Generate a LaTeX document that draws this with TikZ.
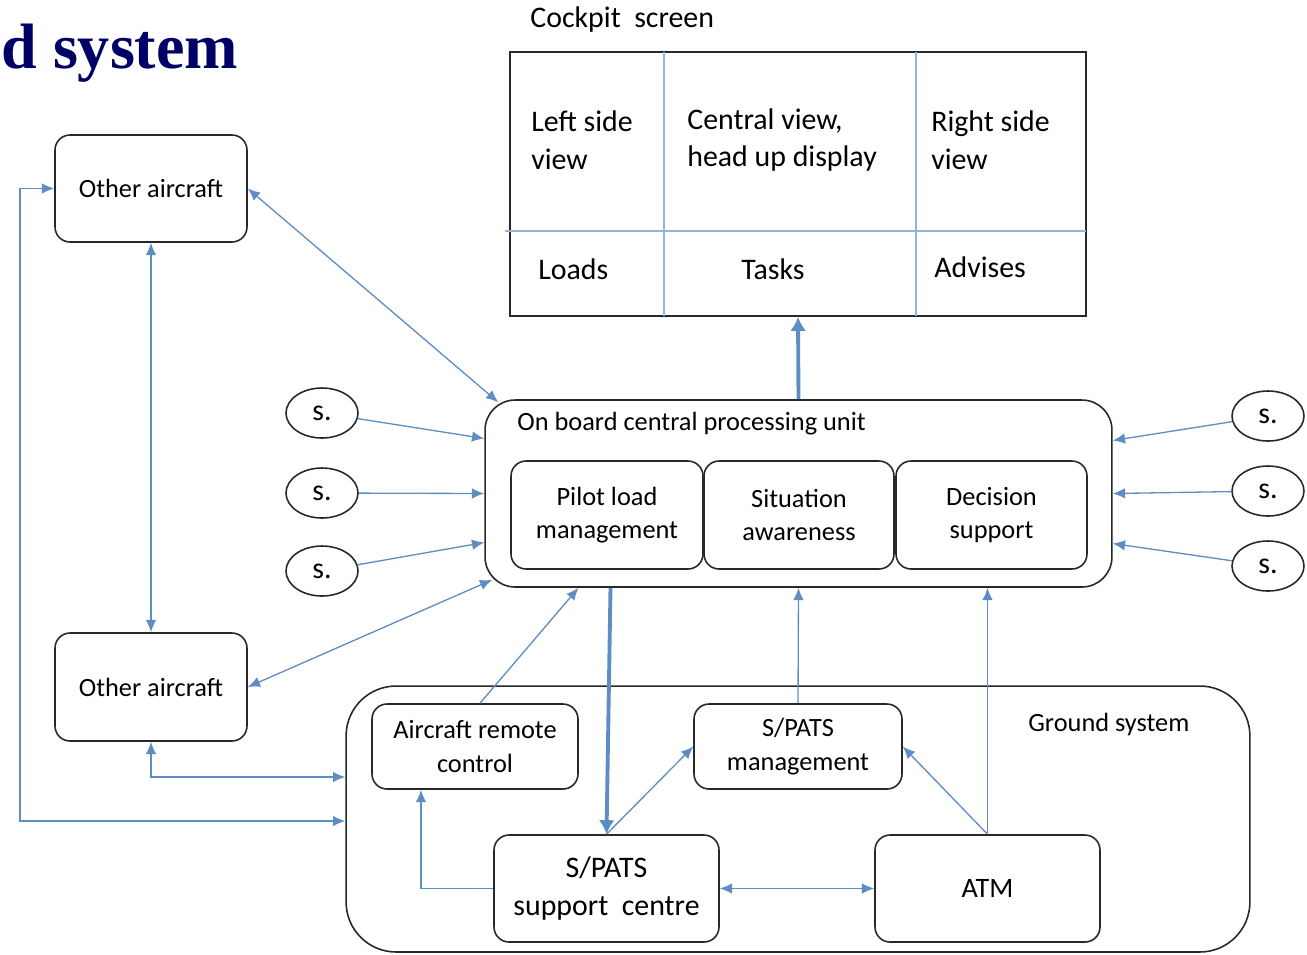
\documentclass[tikz,border=0pt]{standalone}
\usepackage{fontspec}
\setmainfont{Carlito}
\newfontfamily\headfont{Liberation Serif}
\usetikzlibrary{arrows.meta,shapes.geometric}

\definecolor{linkblue}{RGB}{94,141,196}
\definecolor{gridblue}{RGB}{150,180,215}
\definecolor{headnavy}{RGB}{0,0,102}
\definecolor{boxline}{RGB}{40,40,40}

\begin{document}
\begin{tikzpicture}[
    x=0.02cm, y=-0.02cm,
    box/.style={rectangle, rounded corners=0.3cm, draw=boxline, line width=0.9pt, inner sep=0pt, align=center, font=\fontsize{15}{19}\selectfont},
    sensor/.style={ellipse, draw=boxline, line width=0.9pt, minimum width=1.44cm, minimum height=1.0cm, inner sep=0pt, font=\fontsize{17}{20}\selectfont},
    link/.style={-{Latex[length=7pt,width=6pt]}, draw=linkblue, line width=0.75pt},
    both/.style={link, {Latex[length=7pt,width=6pt]}-{Latex[length=7pt,width=6pt]}},
    thick link/.style={link, line width=2.2pt, -{Latex[length=8pt,width=9pt]}},
    cell/.style={anchor=west, align=left, inner sep=0pt, font=\fontsize{17}{21.5}\selectfont},
    label/.style={anchor=west, inner sep=0pt, font=\fontsize{15}{18}\selectfont}
]
    \useasboundingbox (0,0) rectangle (1307,954);

    % Heading (cut off on the left)
    \node[inner sep=0pt, anchor=base west, text=headnavy, font=\headfont\bfseries\fontsize{36.5}{40}\selectfont] (heading) at (1,68) {d system};

    % Cockpit screen with its six cells
    \node[cell, font=\fontsize{17}{20}\selectfont] (screen title) at (530,20) {Cockpit\ \ screen};
    \node[draw=boxline, line width=0.9pt, minimum width=11.52cm, minimum height=5.28cm, inner sep=0pt] (screen) at (798,184) {};
    \draw[gridblue, line width=0.8pt] (664,52) -- (664,316) (916,52) -- (916,316) (505,231) -- (1086,231);
    \node[cell] (left view) at (531,140) {Left side\\view};
    \node[cell] (central view) at (687,140) {Central view,\\head up display};
    \node[cell] (right view) at (931,140) {Right side\\view};
    \node[cell] (loads) at (538,269) {Loads};
    \node[cell] (tasks) at (741,269) {Tasks};
    \node[cell] (advises) at (934,267) {Advises};

    % On board central processing unit
    \node[box, rounded corners=0.6cm, minimum width=12.54cm, minimum height=3.74cm] (cpu) at (798.5,493.5) {};
    \node[label] (cpu title) at (517,424) {On board central processing unit};
    \node[box, minimum width=3.84cm, minimum height=2.16cm] (pilot) at (607,515) {Pilot load\\management};
    \node[box, minimum width=3.8cm, minimum height=2.16cm] (aware) at (799,515) {Situation\\awareness};
    \node[box, minimum width=3.82cm, minimum height=2.16cm] (decide) at (991.5,515) {Decision\\support};

    % Sensors
    \node[sensor] (sl1) at (322,413) {s.};
    \node[sensor] (sl2) at (322,493) {s.};
    \node[sensor] (sl3) at (322,571) {s.};
    \node[sensor] (sr1) at (1268,416) {s.};
    \node[sensor] (sr2) at (1268,491) {s.};
    \node[sensor] (sr3) at (1268,566) {s.};

    % Other aircraft
    \node[box, minimum width=3.84cm, minimum height=2.14cm] (oa1) at (151,188.5) {Other aircraft};
    \node[box, minimum width=3.84cm, minimum height=2.16cm] (oa2) at (151,687) {Other aircraft};

    % Ground system
    \node[box, rounded corners=1cm, minimum width=18.08cm, minimum height=5.32cm] (ground) at (798,819) {};
    \node[label] (ground title) at (1028,724) {Ground system};
    \node[box, minimum width=4.12cm, minimum height=1.7cm] (remote) at (475,746.5) {Aircraft remote\\control};
    \node[box, minimum width=4.16cm, minimum height=1.7cm] (mgmt) at (798,746.5) {S/PATS\\management};
    \node[box, minimum width=4.5cm, minimum height=2.14cm, font=\fontsize{17}{21.5}\selectfont] (centre) at (606.5,888.5) {S/PATS\\support\ \ centre};
    \node[box, minimum width=4.5cm, minimum height=2.14cm, font=\fontsize{16}{19}\selectfont] (atm) at (987.5,888.5) {ATM};

    % Sensor inputs
    \draw[link] (sl1) -- ([shift={(0,-55)}]cpu.west);
    \draw[link] (sl2) -- (cpu.west);
    \draw[link] (sl3) -- ([shift={(0,49)}]cpu.west);
    \draw[link] (sr1) -- ([shift={(0,-53)}]cpu.east);
    \draw[link] (sr2) -- (cpu.east);
    \draw[link] (sr3) -- ([shift={(0,50)}]cpu.east);

    % Links with the other aircraft
    \draw[both] (oa1.east) -- ([shift={(14,3)}]cpu.north west);
    \draw[both] (oa1.south) -- (oa2.north);
    \draw[both] (oa2.east) -- ([shift={(8,-8)}]cpu.south west);
    \draw[both] (oa2.south) |- ([shift={(0,-42)}]ground.west);
    \coordinate (bend) at (20,821);
    \draw[both] ([shift={(0,2)}]ground.west) -- (bend) |- (oa1.west);

    % Processing unit to screen and support centre
    \draw[thick link] (cpu.north) -- (screen.south);
    \draw[thick link] ([shift={(-188,0)}]cpu.south) -- (centre.north);

    % Ground system links
    \draw[link] ([shift={(5,0)}]remote.north) -- ([shift={(-220,0)}]cpu.south);
    \draw[link] (mgmt.north) -- (cpu.south);
    \draw[link] (atm.north) -- (atm.north |- cpu.south);
    \draw[link] (atm.north) -- (mgmt.east);
    \draw[link] (centre.north) -- (mgmt.west);
    \draw[both] (centre.east) -- (atm.west);
    \draw[link] (centre.west) -| ([shift={(-54,0)}]remote.south);
\end{tikzpicture}
\end{document}
